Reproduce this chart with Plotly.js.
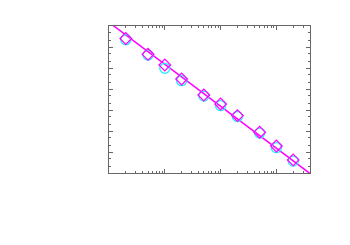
<!DOCTYPE html>
<html>
<head>
<meta charset="utf-8">
<script src="https://cdn.plot.ly/plotly-3.0.1.min.js"></script>
<style>html,body{margin:0;padding:0;background:#fff;}#plot{width:350px;height:245px;}</style>
</head>
<body>
<div id="plot"></div>
<script>
const xVals = [2, 5, 10, 20, 50, 100, 200, 500, 1000, 2000];
const cyanY = [0.223, 0.0417, 0.0097, 0.0025, 4.6e-4, 1.6e-4, 4.9e-5, 8e-6, 1.6e-6, 3.7e-7];
const magentaY = [0.254, 0.0448, 0.0139, 0.0030, 5.2e-4, 1.94e-4, 5.4e-5, 8.7e-6, 1.94e-6, 4.2e-7];
const fitX = [1, 4000];
const fitY = [1.5, 9.4e-8];

const axisBase = {
  type: 'log', showgrid: false, zeroline: false, showticklabels: false,
  showline: true, linecolor: '#666', linewidth: 1, mirror: 'ticks',
  ticks: 'inside', ticklen: 4, tickcolor: '#666', tickwidth: 1, dtick: 1
};

const data = [
  {x: fitX, y: fitY, mode: 'lines', line: {color: '#ff00ff', width: 1.5}, hoverinfo: 'skip', showlegend: false},
  {x: xVals, y: cyanY, mode: 'markers', marker: {symbol: 'circle-open', size: 10, color: '#22eeff', line: {width: 1.3, color: '#22eeff'}}, showlegend: false},
  {x: xVals, y: magentaY, mode: 'markers', marker: {symbol: 'diamond-open', size: 9, color: '#ff00ff', line: {width: 1.2, color: '#ff00ff'}}, showlegend: false}
];

const layout = {
  width: 350, height: 245,
  margin: {l: 109, r: 40, t: 26, b: 72},
  paper_bgcolor: '#fff', plot_bgcolor: '#fff',
  showlegend: false,
  xaxis: Object.assign({}, axisBase, {range: [0, Math.log10(4000)], minor: {ticks: 'inside', ticklen: 2, tickcolor: '#666', dtick: 'D1'}}),
  yaxis: Object.assign({}, axisBase, {range: [-7, 0], minor: {ticks: 'inside', ticklen: 2, tickcolor: '#666', dtick: 'D2'}})
};

Plotly.newPlot('plot', data, layout, {staticPlot: true, displayModeBar: false});
</script>
</body>
</html>
